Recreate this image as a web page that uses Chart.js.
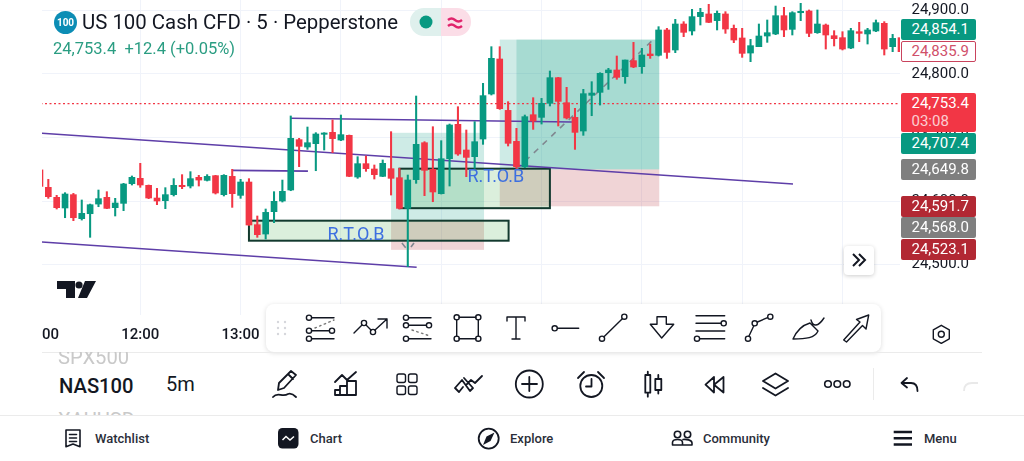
<!DOCTYPE html>
<html lang="en">

<head>
    <meta charset="UTF-8">
    <title>US 100 Cash CFD</title>
    <script src="https://cdn.jsdelivr.net/npm/chart.js"></script>
    <style>
        html, body { margin: 0; padding: 0; background: #fff; width: 1024px; height: 461px; overflow: hidden; font-family: Roboto, sans-serif; color: #131722; }
        .abs { position: absolute; white-space: nowrap; }
        #chartClip { position: absolute; left: 42px; top: 0; width: 982px; height: 352px; overflow: hidden; }
        #Chart { position: absolute; left: -42px; top: 0; }
        .title { left: 82px; top: 10px; font-size: 20.4px; line-height: 24px; }
        .quote { left: 53px; top: 39px; font-size: 16.5px; line-height: 20px; color: #2a9d82; }
        .logo100 { left: 54px; top: 11px; width: 23px; height: 23px; border-radius: 50%; background: #0c8db5; color: #fff; font-size: 10px; font-weight: 700; line-height: 23px; text-align: center; }
        .pill { top: 8px; height: 28px; width: 30.5px; }
        .tag { box-sizing: border-box; left: 901px; width: 75px; height: 21px; line-height: 21px; font-size: 15px; padding-left: 10.5px; border-radius: 2px; color: #fff; }
        .toolbar { left: 266px; top: 304px; width: 615px; height: 48px; background: #fff; border-radius: 8px; box-shadow: 0 1px 5px rgba(0, 0, 0, .14); }
        .more { left: 844px; top: 246px; width: 30px; height: 29px; background: #fff; border-radius: 4px; box-shadow: 0 1px 4px rgba(0, 0, 0, .2); }
        .rule { height: 1px; background: #ebebeb; }
        .sym { font-size: 20.2px; font-weight: 500; line-height: 24px; }
        .fade { color: #c9c9c9; font-weight: 400; overflow: hidden; }
        .nav { top: 430px; font-size: 13px; font-weight: 500; line-height: 17px; color: #2a2e39; }
        #icons { position: absolute; left: 0; top: 0; pointer-events: none; }
        #icons .s { fill: none; stroke: #131722; stroke-width: 1.4; stroke-linecap: round; stroke-linejoin: round; }
        #icons .d { fill: none; stroke: #777; stroke-width: 1.4; stroke-dasharray: 1.5 3.5; }
    </style>
</head>

<body>
    <div id="chartClip"><canvas id="Chart" width="1024" height="352"></canvas></div>

    <div class="abs logo100">100</div>
    <div class="abs title">US 100 Cash CFD · 5 · Pepperstone</div>
    <div class="abs quote">24,753.4&nbsp; +12.4 (+0.05%)</div>
    <div class="abs pill" style="left:410px;background:#dff0ed;border-radius:14px 0 0 14px"></div>
    <div class="abs pill" style="left:440.5px;background:#fbdde7;border-radius:0 14px 14px 0"></div>

    <div class="abs tag" style="top:19px;background:#089981">24,854.1</div>
    <div class="abs tag" style="top:41px;line-height:19px;padding-left:9.5px;background:#fff;border:1px solid #c9435d;color:#d0506a">24,835.9</div>
    <div class="abs tag" style="top:93px;height:39px;line-height:18px;background:#f23645;padding-top:1px">24,753.4<br><span style="opacity:.75">03:08</span></div>
    <div class="abs tag" style="top:133px;background:#089981">24,707.4</div>
    <div class="abs tag" style="top:159px;background:#7f7f7f">24,649.8</div>
    <div class="abs tag" style="top:196px;background:#b22833">24,591.7</div>
    <div class="abs tag" style="top:217px;background:#7f7f7f">24,568.0</div>
    <div class="abs tag" style="top:239px;background:#b22833">24,523.1</div>

    <div class="abs more"></div>
    <div class="abs toolbar"></div>
    <div class="abs rule" style="left:42px;top:352px;width:940px"></div>
    <div class="abs rule" style="left:0;top:415px;width:1024px"></div>
    <div class="abs rule" style="left:873px;top:368px;width:1px;height:32px"></div>

    <div class="abs sym fade" style="left:58px;top:352px;height:12px;width:80px"><div style="margin-top:-7px">SPX500</div></div>
    <div class="abs sym" style="left:59px;top:374px">NAS100</div>
    <div class="abs" style="left:166px;top:372px;font-size:20px;line-height:24px">5m</div>
    <div class="abs sym fade" style="left:58px;top:408px;height:7px;width:80px"><div>XAUUSD</div></div>

    <div class="abs nav" style="left:95px">Watchlist</div>
    <div class="abs nav" style="left:310px">Chart</div>
    <div class="abs nav" style="left:510px">Explore</div>
    <div class="abs nav" style="left:703px">Community</div>
    <div class="abs nav" style="left:924px">Menu</div>

    <svg id="icons" width="1024" height="461" viewBox="0 0 1024 461">
        <!-- header -->
        <circle cx="426" cy="22" r="6.5" fill="#089981" />
        <path d="M448 20 q3.500 -3 7 0 t7 0 M448 26 q3.500 -3 7 0 t7 0" fill="none" stroke="#e0236b" stroke-width="2.400" />
        <!-- tradingview mark -->
        <path d="M57 281 h18 v17 h-9 v-9 h-9 z M85 281 h11 l-9 17 h-9 z" fill="#131722" />
        <circle cx="79" cy="285" r="3.600" fill="#131722" />
        <!-- more -->
        <path d="M853 254 l6 6 -6 6 M859 254 l6 6 -6 6" fill="none" stroke="#131722" stroke-width="2" />
        <!-- drawing toolbar -->
        <g fill="#d5d7dc"><circle cx="278" cy="322" r="1.200" /><circle cx="285" cy="322" r="1.200" /><circle cx="278" cy="328" r="1.200" /><circle cx="285" cy="328" r="1.200" /><circle cx="278" cy="334" r="1.200" /><circle cx="285" cy="334" r="1.200" /></g>
        <g class="s">
            <circle class="s" cx="309" cy="317.700" r="2.600" /><circle class="s" cx="309" cy="330.700" r="2.600" /><circle class="s" cx="332" cy="330.700" r="2.600" /><circle class="s" cx="309" cy="338.700" r="2.600" />
            <path class="s" d="M312 317.700 H334 M312 330.700 H329 M312 338.700 H334" />
            <path class="d" d="M315 328 L334 320" />
            <path class="s" d="M354 333 L362 325 M366 325 L371 330 M375 330 L387 319 M378 319 H387 V328" />
            <circle class="s" cx="364" cy="323" r="2.600" /><circle class="s" cx="373" cy="332" r="2.600" />
            <circle class="s" cx="406" cy="317.700" r="2.600" /><circle class="s" cx="406" cy="325.300" r="2.600" /><circle class="s" cx="429" cy="325.300" r="2.600" /><circle class="s" cx="406" cy="338.700" r="2.600" />
            <path class="s" d="M409 317.700 H431 M409 325.300 H426 M409 338.700 H431" />
            <path class="d" d="M412 330 L430 336" />
            <path class="s" d="M459 317.300 H476 M459 338.700 H476 M456.700 320 V336 M478.300 320 V336" />
            <circle class="s" cx="456.700" cy="317.300" r="2.600" /><circle class="s" cx="478.300" cy="317.300" r="2.600" /><circle class="s" cx="456.700" cy="338.700" r="2.600" /><circle class="s" cx="478.300" cy="338.700" r="2.600" />
            <path class="s" d="M507 321 V317 H525 V321 M516 317 V339 M512 339 H520" />
            <circle class="s" cx="554.700" cy="328.300" r="2.600" /><path class="s" d="M557.500 328.300 H578.700" />
            <circle class="s" cx="602" cy="338.700" r="2.600" /><circle class="s" cx="624.300" cy="316.700" r="2.600" /><path class="s" d="M604 336.700 L622.300 318.700" />
            <path class="s" d="M657 316.700 H666.300 V324.300 H673.700 L661.700 338 L650.300 324.300 H657 Z" />
            <path class="s" d="M696 315.700 H724.700 M696 323.300 H721 M696 331 H724.700 M700 338.700 H724.700" />
            <circle class="s" cx="723.700" cy="323.300" r="2.600" /><circle class="s" cx="697" cy="338.700" r="2.600" />
            <circle class="s" cx="748" cy="338.700" r="2.600" /><circle class="s" cx="754.700" cy="323.300" r="2.600" /><circle class="s" cx="770.300" cy="316.700" r="2.600" />
            <path class="s" d="M749 336 L753.700 326 M757.500 322 L767.500 317.700" />
            <path class="s" d="M793 339 C797 330 803 325 810 323 L818 331 C815 338 806 339 793 339 Z M811 320 C813 327 818 327 824 318" />
            <path class="s" d="M843.700 340 L860 322 L856.500 319.500 L868.700 315 L866 329 L862.500 325.500 L846.500 342 Z" />
            <path class="s" d="M941.300 325.300 L949.300 329.800 V338.800 L941.300 343.300 L933.300 338.800 V329.800 Z" />
            <circle class="s" cx="941.300" cy="334.300" r="3" />
        </g>
        <!-- bottom tools -->
        <g>
            <path class="s" style="stroke-width:1.800" d="M278 390 L279 383 L291 371 L296 375 L284 388 Z M288 374 L293 379 M273 397 C278 391 282 398 288 394 C291 393 294 395 296 397" />
            <path class="s" style="stroke-width:1.800" d="M335 382 L342 375 L347 380 L356 372 M335 395 V390 H340 V395 Z M340 395 V386 H347 V395 M347 395 V381 H356 V395 H335" />
            <g class="s" style="stroke-width:1.800"><rect class="s" x="397" y="374" width="8.500" height="8.500" rx="2" /><rect class="s" x="408.500" y="374" width="8.500" height="8.500" rx="2" /><rect class="s" x="397" y="386" width="8.500" height="8.500" rx="2" /><rect class="s" x="408.500" y="386" width="8.500" height="8.500" rx="2" /></g>
            <path class="s" style="stroke-width:1.800" d="M455 388 L462 380 L470 391 L473 388 L464 378 M467 384 L471 380 L475 383 L482 376 M455 388 L459 392 L463 387" />
            <circle class="s" cx="529.300" cy="384" r="13.500" style="stroke-width:1.800" /><path class="s" style="stroke-width:1.800" d="M522 384 H537 M529.300 377 V391" />
            <circle class="s" cx="591.300" cy="386" r="11" style="stroke-width:1.800" /><path class="s" style="stroke-width:1.800" d="M591.500 379 V386.500 H586 M578 378 L584 372 M604 378 L598 372" />
            <path class="s" style="stroke-width:1.800" d="M645.300 375 H650.300 V392.700 H645.300 Z M647.800 371.700 V375 M647.800 392.700 V396.700 M655.300 379 H661.300 V390 H655.300 Z M658.300 375 V379 M658.300 390 V393.500" />
            <path class="s" style="stroke-width:1.800" d="M714 377 L705.500 384.700 L714 392.500 Z M723.500 377 L714 384.700 L723.500 392.500 Z" />
            <path class="s" style="stroke-width:1.800" d="M775.500 373.500 L788 381 L775.500 388.500 L763 381 Z M763 388 L775.500 395.500 L788 388" />
            <circle class="s" cx="828" cy="384" r="3.300" style="stroke-width:1.600" /><circle class="s" cx="837.300" cy="384" r="3.300" style="stroke-width:1.600" /><circle class="s" cx="846.700" cy="384" r="3.300" style="stroke-width:1.600" />
            <path class="s" style="stroke-width:1.800" d="M907 378 L901.500 383 L907 387.500 M902 383 H911 C915 383 917.500 386 917.500 391" />
            <path d="M964 391 C964 386 967 383 972 383 L978 383" fill="none" stroke="#e9e9e9" stroke-width="1.800" />
        </g>
        <!-- bottom nav -->
        <g>
            <path class="s" style="stroke-width:1.600" d="M66 430 H80 V446.700 L73 444 L66 446.700 Z M69.500 434.500 H76.500 M69.500 438 H76.500 M69.500 441.500 H76.500" />
            <rect x="278" y="428" width="20.500" height="20.500" rx="4.500" fill="#131722" />
            <path d="M282.500 440 L286 436.500 L290 440 L294 436.500" fill="none" stroke="#fff" stroke-width="1.500" />
            <circle class="s" cx="488.700" cy="438.600" r="10" style="stroke-width:1.800" /><path d="M494.500 432.500 L490.500 441 L483 445 L486.500 436.500 Z" fill="#131722" />
            <circle class="s" cx="677.500" cy="434.500" r="3.200" style="stroke-width:1.600" /><circle class="s" cx="687.500" cy="434.500" r="3.200" style="stroke-width:1.600" />
            <path class="s" style="stroke-width:1.600" d="M672.500 445 V442.500 C672.500 440.500 675 439.500 677.500 439.500 C680 439.500 682.500 440.500 682.500 442.500 V445 Z M683 439.500 C686 439 692 439.800 692 443 V445 H683" />
            <path d="M893.700 432 H912 M893.700 438.300 H912 M893.700 444.500 H912" stroke="#131722" stroke-width="2.400" />
        </g>
    </svg>

    <script>
        // candles, one every 5 minutes from 11:00 (x axis is minutes since midnight)
        const firstCandle = 660;
        const candleStep = 5;
        const opens = [
            24649, 24621.5, 24605.8, 24589, 24610, 24572.2, 24580, 24595.2, 24605.8, 24589.5,
            24596.3, 24627.3, 24635.7, 24624.7, 24604.7, 24600.5, 24610, 24624.7, 24623.6, 24637.3,
            24632.5, 24639.9, 24610, 24638.8, 24608.9, 24629.9, 24562.7, 24548, 24583.2, 24600,
            24617.3, 24696.6, 24685, 24690.3, 24705, 24708.1, 24696, 24703.4, 24637.8, 24658.8,
            24650.4, 24638.8, 24650.9, 24636.7, 24588.4, 24633.6, 24691.8, 24649.9, 24611.5, 24666.6,
            24720.7, 24680.3, 24669.8, 24697.6, 24768.5, 24823.6, 24742.7, 24693.9, 24654, 24735.9,
            24731.7, 24753.8, 24794.2, 24754.8, 24731.7, 24710.2, 24766.4, 24771.1, 24802, 24806.3,
            24795.8, 24821, 24811.5, 24831.5, 24829.4, 24869.3, 24837.8, 24878.7, 24867.7, 24890.3,
            24894.5, 24884, 24894.5, 24871.9, 24856.7, 24833, 24843, 24859.8, 24863, 24891.8,
            24870.3, 24896.5, 24899.2, 24865, 24877.1, 24860.3, 24857.2, 24840.9, 24866.6, 24863,
            24867.7, 24879.8, 24843, 24857.2
        ];
        const highs = [
            24649, 24634.1, 24608.9, 24613.1, 24612, 24601.6, 24595.2, 24617.3, 24614.7, 24604.2,
            24627.8, 24639.4, 24659.3, 24625.2, 24619.9, 24621, 24635.2, 24641.5, 24646.2, 24640.4,
            24641.5, 24640.4, 24641.5, 24649.9, 24634.1, 24635.2, 24576.4, 24587.4, 24614.7, 24633,
            24733.9, 24698.7, 24716.5, 24707.6, 24707.6, 24727.5, 24735.4, 24703.9, 24669.8, 24670.9,
            24656.7, 24664.6, 24709.2, 24651.4, 24640.9, 24765.3, 24693.4, 24717, 24695, 24721.2,
            24748.5, 24711.8, 24725, 24785.3, 24843, 24843, 24756.4, 24714.4, 24735.4, 24762.7,
            24761.6, 24804.7, 24794.7, 24779, 24745.9, 24775.8, 24787.9, 24802, 24808.9, 24828.3,
            24822, 24849.8, 24840.4, 24847.2, 24874.5, 24871.9, 24886, 24882.4, 24901.8, 24903.4,
            24909.7, 24899.2, 24898.1, 24877.1, 24871.9, 24854.5, 24878.7, 24885, 24907, 24905,
            24898.1, 24911.3, 24900.8, 24900.8, 24878.7, 24868.2, 24866.6, 24871.9, 24881.3, 24871.9,
            24885, 24882.4, 24862.4, 24857.2
        ];
        const lows = [
            24623, 24604.2, 24587.4, 24573.7, 24569, 24570, 24542.8, 24591, 24587.9, 24576.4,
            24584.8, 24625.2, 24621.5, 24603.7, 24594.2, 24587.9, 24607.9, 24619.4, 24620.5, 24623.6,
            24631.5, 24611, 24607.9, 24590, 24604.2, 24561.7, 24542.8, 24540.1, 24565.9, 24598.4,
            24616.2, 24654.1, 24681.3, 24647.7, 24680.3, 24676.1, 24695, 24638.3, 24635.7, 24646.7,
            24634.6, 24638.3, 24609.4, 24587.4, 24496.6, 24627.8, 24608.4, 24598.9, 24611, 24623.6,
            24671.9, 24638.3, 24651.4, 24689.2, 24766.9, 24744.3, 24686.6, 24651.4, 24652.4, 24712.8,
            24721.2, 24749.6, 24718.1, 24729.1, 24681.3, 24703.4, 24734.3, 24751.1, 24775.8, 24791.6,
            24785.3, 24809.9, 24801, 24824.6, 24828.3, 24824.6, 24833.6, 24858.8, 24861.4, 24877.1,
            24880.8, 24869.3, 24864, 24849.3, 24826.2, 24819.4, 24843, 24849.8, 24861.9, 24858.8,
            24861.4, 24884, 24858.8, 24864, 24839.3, 24844.1, 24837.8, 24839.9, 24850.9, 24847.2,
            24866.6, 24829.9, 24835.1, 24835.1
        ];
        const closes = [
            24623, 24606.8, 24589.5, 24611, 24573.7, 24580.6, 24594.2, 24603.7, 24588.4, 24596.8,
            24626.8, 24637.3, 24625.2, 24604.7, 24600, 24610, 24624.7, 24622.6, 24635.2, 24633,
            24638.8, 24612.6, 24640.4, 24611.5, 24629.9, 24562.2, 24547, 24582.1, 24599.5, 24615.2,
            24698.7, 24686.1, 24691.8, 24705.5, 24707.1, 24698.2, 24704.5, 24638.8, 24658.8, 24650.9,
            24641.5, 24659.3, 24635.7, 24588.4, 24633.1, 24689.2, 24648.3, 24614.2, 24666.6, 24719.7,
            24674, 24668.7, 24693.4, 24765.9, 24824.7, 24745.4, 24690.8, 24654, 24732.8, 24725.9,
            24753.8, 24794.2, 24756.9, 24730.7, 24708.1, 24769, 24770, 24801, 24806.3, 24794.7,
            24822, 24811, 24829.9, 24828.8, 24869.3, 24834, 24878.7, 24865.6, 24890.3, 24897.1,
            24881.3, 24895.5, 24870.8, 24853.5, 24832.5, 24844.6, 24859.8, 24865, 24891.8, 24869.3,
            24896.5, 24898.7, 24864, 24878.7, 24861.4, 24855.6, 24839.3, 24868.2, 24864, 24869.3,
            24880.8, 24839.3, 24856.1, 24835.1
        ];

        const priceTicks = [24500, 24600, 24700, 24800, 24900];
        const timeTicks = [660, 720, 780, 840, 900, 960, 1020, 1080, 1140];
        const lastPrice = 24753.4;

        // trendlines drawn on the chart: [time, price, time, price]
        const channelLines = [
            [661.2, 24706.6, 1110.4, 24626.8],
            [661.2, 24535.4, 885.3, 24495.6],
            [775, 24648.3, 820.3, 24647],
            [810.1, 24730.2, 978.2, 24724.4]
        ];
        const dashedLines = [
            [945, 24649.8, 1027.8, 24856.7],
            [876.5, 24533.9, 878.9, 24526],
            [881.9, 24527.6, 883.7, 24533.9]
        ];
        // long position tools and the two marked zones: time from, time to, price top, price bottom
        const profitZones = [
            [870, 925.6, 24707.4, 24568],
            [935, 1030.4, 24854.1, 24649.8],
            [945, 1030.4, 24854.1, 24649.8]
        ];
        const lossZones = [
            [870, 925.6, 24568, 24523.1],
            [935, 1030.4, 24649.8, 24591.7]
        ];
        const rtobZones = [
            [785, 940.3, 24569, 24537.5],
            [875, 965, 24650.9, 24588.7]
        ];
        const rtobLabels = [
            [849, 24545.6],
            [932.7, 24637]
        ];

        const times = opens.map((o, i) => firstCandle + i * candleStep);
        const colors = opens.map((o, i) => closes[i] >= o ? '#089981' : '#f23645');

        function lineDataset(line, color, width, dash) {
            return {
                type: 'line',
                data: [{ x: line[0], y: line[1] }, { x: line[2], y: line[3] }],
                borderColor: color,
                borderWidth: width,
                borderDash: dash,
                pointRadius: 0,
                order: 5
            };
        }

        // boxes go under the candles, text over them
        const drawingsPlugin = {
            id: 'drawings',
            beforeDatasetsDraw(chart) {
                const { ctx, scales: { x, y } } = chart;
                const box = (z, fill, border) => {
                    const left = x.getPixelForValue(z[0]);
                    const top = y.getPixelForValue(z[2]);
                    const w = x.getPixelForValue(z[1]) - left;
                    const h = y.getPixelForValue(z[3]) - top;
                    ctx.fillStyle = fill;
                    ctx.fillRect(left, top, w, h);
                    if (border) {
                        ctx.strokeStyle = border;
                        ctx.lineWidth = 2;
                        ctx.strokeRect(left, top, w, h);
                    }
                };
                ctx.save();
                profitZones.forEach(z => box(z, 'rgba(8, 153, 129, 0.2)'));
                lossZones.forEach(z => box(z, 'rgba(178, 40, 51, 0.2)'));
                rtobZones.forEach(z => box(z, 'rgba(76, 175, 80, 0.2)', '#12392e'));
                ctx.restore();
            },
            afterDatasetsDraw(chart) {
                const { ctx, scales: { x, y } } = chart;
                ctx.save();
                ctx.font = '18px Roboto';
                ctx.fillStyle = '#3d6fe0';
                ctx.textAlign = 'center';
                ctx.textBaseline = 'middle';
                rtobLabels.forEach(l => ctx.fillText('R.T.O.B', x.getPixelForValue(l[0]), y.getPixelForValue(l[1])));
                ctx.restore();
            }
        };

        const ctx = document.getElementById('Chart').getContext('2d');
        new Chart(ctx, {
            type: 'bar',
            data: {
                datasets: [
                    {
                        label: 'body',
                        data: times.map((t, i) => ({ x: t, y: [opens[i], closes[i]] })),
                        backgroundColor: colors,
                        barThickness: 6,
                        grouped: false,
                        order: 0
                    },
                    {
                        label: 'wick',
                        data: times.map((t, i) => ({ x: t, y: [lows[i], highs[i]] })),
                        backgroundColor: colors,
                        barThickness: 1.4,
                        grouped: false,
                        order: 1
                    },
                    ...channelLines.map(l => lineDataset(l, '#5e3ea8', 1.6, [])),
                    ...dashedLines.map(l => lineDataset(l, '#808790', 1.6, [6, 6])),
                    lineDataset([636.1, lastPrice, 1174.4, lastPrice], '#f23645', 1.3, [2, 2.5])
                ]
            },
            options: {
                responsive: false,
                animation: false,
                plugins: { legend: { display: false }, tooltip: { enabled: false } },
                layout: { padding: 0 },
                scales: {
                    x: {
                        type: 'linear',
                        offset: false,
                        min: 636.1,
                        max: 1174.4,
                        grid: { color: '#f0f3fa', offset: false, drawTicks: false },
                        border: { display: false },
                        afterBuildTicks(scale) {
                            scale.ticks = timeTicks.map(value => ({ value }));
                        },
                        afterFit(scale) {
                            scale.height = 37;
                            scale.paddingLeft = 0;
                            scale.paddingRight = 0;
                        },
                        ticks: {
                            autoSkip: false,
                            maxRotation: 0,
                            padding: 11,
                            color: '#131722',
                            font: { family: 'Roboto', size: 15, weight: '500' },
                            callback: v => Math.floor(v / 60) + ':00'
                        }
                    },
                    y: {
                        position: 'right',
                        min: 24420.5,
                        max: 24916.5,
                        grid: { color: '#f0f3fa', drawTicks: false },
                        border: { display: false },
                        afterBuildTicks(scale) {
                            scale.ticks = priceTicks.map(value => ({ value }));
                        },
                        afterFit(scale) {
                            scale.width = 124;
                            scale.paddingTop = 0;
                            scale.paddingBottom = 0;
                        },
                        ticks: {
                            padding: 11.5,
                            color: '#131722',
                            font: { family: 'Roboto', size: 15 },
                            callback: v => v.toLocaleString('en-US', { minimumFractionDigits: 1 })
                        }
                    }
                }
            },
            plugins: [drawingsPlugin]
        });
    </script>

</body>

</html>
